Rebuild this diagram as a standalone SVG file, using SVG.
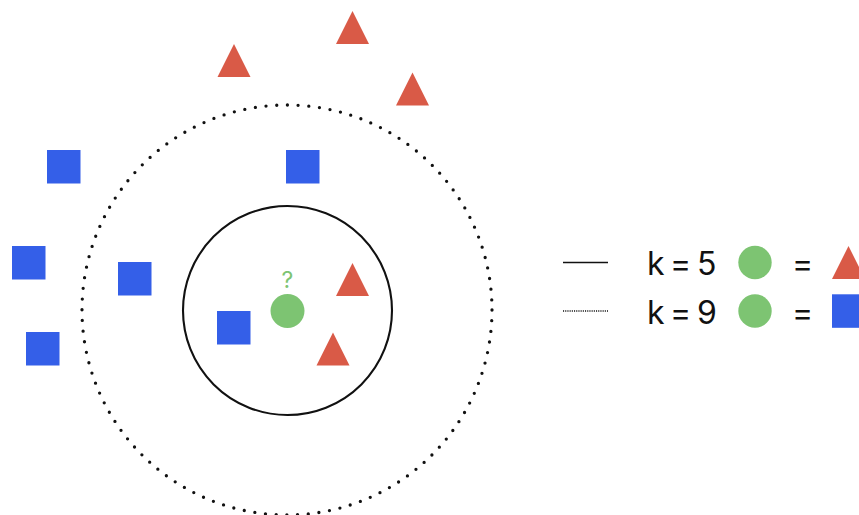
<svg xmlns="http://www.w3.org/2000/svg" width="859" height="515" viewBox="0 0 859 515">
  <style>
    .sq { fill: #345FE8; }
    .tri { fill: #D95A47; }
    .pt { fill: #7DC472; }
    .lbl { font-family: Inter, "Liberation Sans", sans-serif; font-size: 32px; fill: #111111; }
    .q { font-family: Inter, "Liberation Sans", sans-serif; font-size: 23px; fill: #7DC472; text-anchor: middle; }
  </style>
  <defs>
    <rect id="square" width="33.5" height="33.5"/>
    <polygon id="triangle" points="16.5,0 33,33 0,33"/>
  </defs>
  <rect width="859" height="515" fill="#ffffff"/>

  <!-- neighbourhood circles -->
  <g id="connectors">
    <circle id="ring-k9" cx="287" cy="310" r="205" fill="none" stroke="#111" stroke-width="3.3" stroke-linecap="round" stroke-dasharray="0 10.734"/>
    <circle id="ring-k5" cx="287.5" cy="310.5" r="104.5" fill="none" stroke="#111" stroke-width="2.1"/>
  </g>

  <!-- class A: squares -->
  <g id="sq1" class="sq"><use href="#square" x="47" y="150"/></g>
  <g id="sq2" class="sq"><use href="#square" x="12" y="246"/></g>
  <g id="sq3" class="sq"><use href="#square" x="118" y="262"/></g>
  <g id="sq4" class="sq"><use href="#square" x="26" y="332"/></g>
  <g id="sq5" class="sq"><use href="#square" x="286" y="150"/></g>
  <g id="sq6" class="sq"><use href="#square" x="217" y="311"/></g>

  <!-- class B: triangles -->
  <g id="tri1" class="tri"><use href="#triangle" x="217.5" y="44"/></g>
  <g id="tri2" class="tri"><use href="#triangle" x="336" y="11"/></g>
  <g id="tri3" class="tri"><use href="#triangle" x="396" y="72.5"/></g>
  <g id="tri4" class="tri"><use href="#triangle" x="336" y="263"/></g>
  <g id="tri5" class="tri"><use href="#triangle" x="316.5" y="332.5"/></g>

  <!-- query point -->
  <g id="query">
    <circle class="pt" cx="287.5" cy="311" r="17"/>
    <text class="q" x="287.5" y="288">?</text>
  </g>

  <!-- legend -->
  <g id="legend-k5">
    <line x1="563" y1="262.5" x2="608" y2="262.5" stroke="#111" stroke-width="1.6"/>
    <text class="lbl" y="275"><tspan x="647">k</tspan><tspan x="670">=</tspan><tspan x="697">5</tspan></text>
    <circle class="pt" cx="755" cy="262.5" r="16.7"/>
    <text class="lbl" x="792" y="275">=</text>
    <use class="tri" href="#triangle" x="832" y="246"/>
  </g>
  <g id="legend-k9">
    <line x1="563" y1="311" x2="608" y2="311" stroke="#111" stroke-width="1.6" stroke-dasharray="1.1 1.1"/>
    <text class="lbl" y="323.5"><tspan x="647">k</tspan><tspan x="670">=</tspan><tspan x="697">9</tspan></text>
    <circle class="pt" cx="755" cy="311" r="16.7"/>
    <text class="lbl" x="792" y="323.5">=</text>
    <use class="sq" href="#square" x="832" y="294.3"/>
  </g>
</svg>
